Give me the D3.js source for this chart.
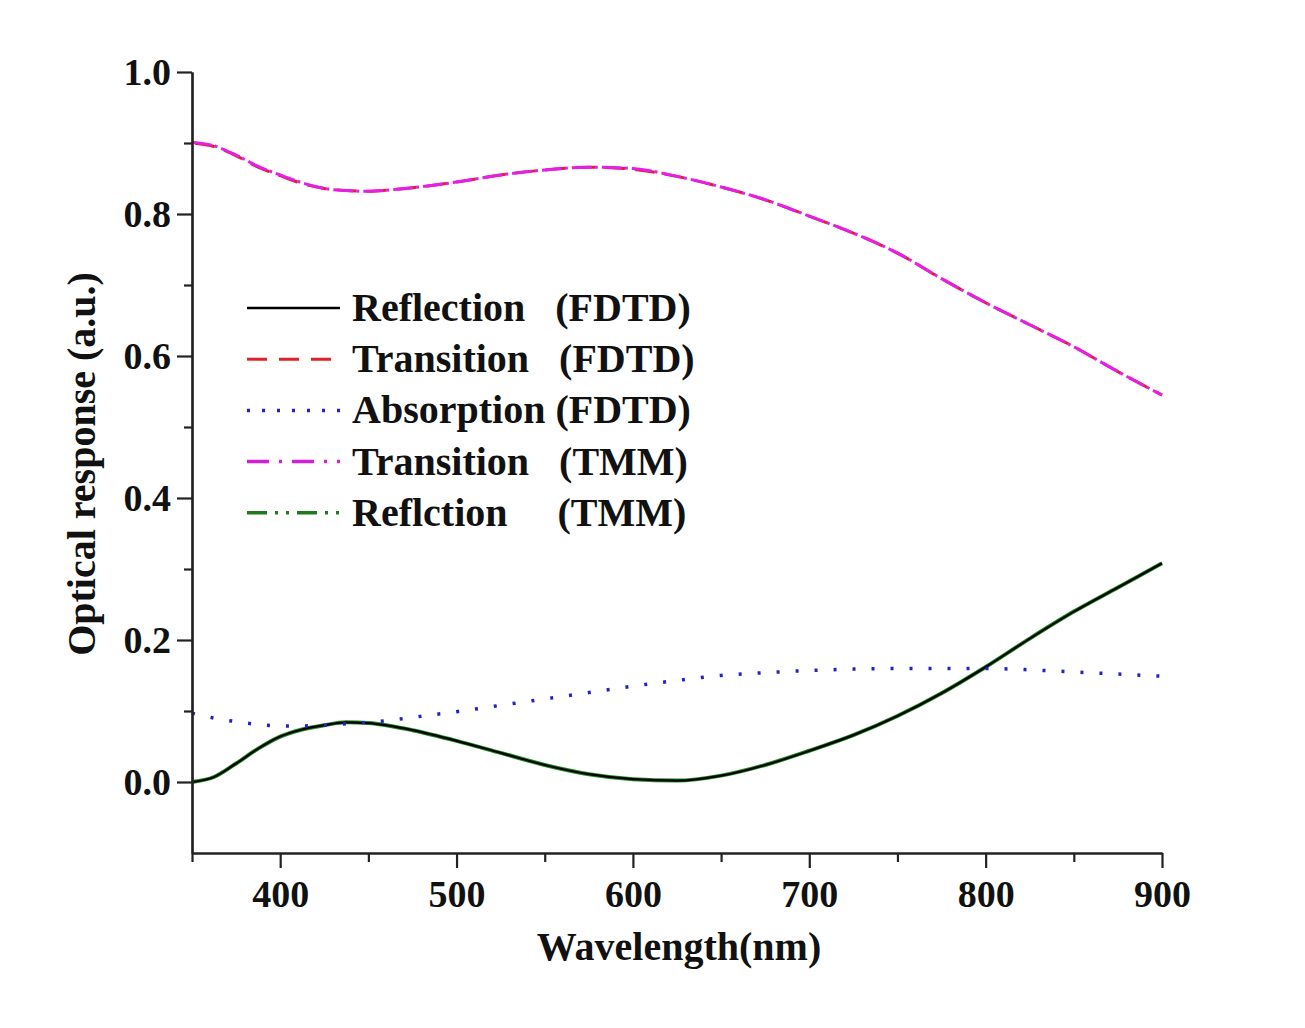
<!DOCTYPE html>
<html>
<head>
<meta charset="utf-8">
<script src="https://cdn.jsdelivr.net/npm/d3@7"></script>
<style>
  body { margin: 0; background: #fff; }
  svg { display: block; font-family: "Liberation Serif", "Times New Roman", serif; font-weight: bold; }
</style>
</head>
<body>
<svg id="chart" width="1305" height="1028"></svg>
<script>
// Wavelength samples (nm)
var wavelength = [350, 362.5, 375, 387.5, 400, 412.5, 425, 437.5, 450, 462.5, 475, 500, 525, 550, 575, 600, 625, 650, 675, 700, 725, 750, 775, 800, 825, 850, 875, 900];

// Series
var reflectionFDTD = [0.000, 0.007, 0.026, 0.047, 0.064, 0.074, 0.080, 0.084, 0.083, 0.079, 0.073, 0.058, 0.041, 0.024, 0.011, 0.004, 0.002, 0.009, 0.024, 0.044, 0.066, 0.093, 0.125, 0.162, 0.202, 0.240, 0.274, 0.308];
var transitionFDTD = [0.900, 0.895, 0.882, 0.866, 0.854, 0.843, 0.836, 0.833, 0.832, 0.834, 0.837, 0.845, 0.855, 0.862, 0.866, 0.863, 0.853, 0.838, 0.820, 0.797, 0.773, 0.745, 0.709, 0.675, 0.644, 0.613, 0.578, 0.545];
var absorptionFDTD = [0.097, 0.090, 0.085, 0.081, 0.079, 0.079, 0.080, 0.082, 0.084, 0.087, 0.091, 0.099, 0.108, 0.117, 0.126, 0.135, 0.143, 0.150, 0.154, 0.157, 0.159, 0.160, 0.160, 0.160, 0.158, 0.155, 0.152, 0.149];
var transitionTMM = [0.901, 0.896, 0.883, 0.867, 0.855, 0.844, 0.836, 0.833, 0.832, 0.834, 0.837, 0.845, 0.855, 0.862, 0.866, 0.864, 0.853, 0.838, 0.820, 0.797, 0.773, 0.745, 0.709, 0.675, 0.644, 0.613, 0.578, 0.545];
var reflectionTMM = [0.000, 0.007, 0.026, 0.047, 0.064, 0.074, 0.080, 0.084, 0.083, 0.079, 0.073, 0.058, 0.041, 0.024, 0.011, 0.004, 0.002, 0.009, 0.024, 0.044, 0.066, 0.093, 0.125, 0.162, 0.202, 0.240, 0.274, 0.308];

// Legend labels (spacing kept as in the figure)
var legendLabels = ['Reflection   (FDTD)', 'Transition   (FDTD)', 'Absorption (FDTD)', 'Transition   (TMM)', 'Reflction     (TMM)'];

// Ticks
var xMajorTicks = [400, 500, 600, 700, 800, 900];
var xMinorTicks = [350, 450, 550, 650, 750, 850];
var yMajorTicks = [0.0, 0.2, 0.4, 0.6, 0.8, 1.0];
var yMinorTicks = [0.1, 0.3, 0.5, 0.7, 0.9];

var svg = d3.select('#chart');

var x = d3.scaleLinear().domain([350, 900]).range([192, 1162]);
var y = d3.scaleLinear().domain([-0.1, 1.0]).range([853, 72]);

// Styles per series, drawn in this order
var series = [
	{ values: reflectionTMM, color: '#1f8a1f', width: 4, dash: null, offset: 0 },
	{ values: reflectionFDTD, color: '#000', width: 2.2, dash: null, offset: 0 },
	{ values: absorptionFDTD, color: '#2222c8', width: 3.5, dash: '3,16', offset: 0 },
	{ values: transitionFDTD, color: '#e0202a', width: 3, dash: '20,10', offset: -3 },
	{ values: transitionTMM, color: '#e61ee6', width: 3, dash: '20,3,3,4', offset: 0 }
];

var line = d3.line().curve(d3.curveMonotoneX);

series.forEach(function(s) {
	svg.append('path')
		.attr('d', line(wavelength.map(function(w, i) { return [x(w), y(s.values[i])]; })))
		.style('fill', 'none')
		.style('stroke', s.color)
		.style('stroke-width', s.width)
		.style('stroke-dasharray', s.dash)
		.style('stroke-dashoffset', s.offset);
});

// Axes
var xAxis = svg.append('g').attr('transform', 'translate(0,' + y(-0.1) + ')');
xAxis.call(d3.axisBottom(x).tickValues(xMajorTicks).tickSize(15).tickSizeOuter(0).tickPadding(12).tickFormat(d3.format('d')));
svg.append('g').attr('transform', 'translate(0,' + y(-0.1) + ')')
	.call(d3.axisBottom(x).tickValues(xMinorTicks).tickSize(9).tickSizeOuter(0).tickFormat(''));

var yAxis = svg.append('g').attr('transform', 'translate(' + x(350) + ',0)');
yAxis.call(d3.axisLeft(y).tickValues(yMajorTicks).tickSize(15).tickSizeOuter(0).tickPadding(6).tickFormat(d3.format('.1f')));
svg.append('g').attr('transform', 'translate(' + x(350) + ',0)')
	.call(d3.axisLeft(y).tickValues(yMinorTicks).tickSize(8).tickSizeOuter(0).tickFormat(''));

svg.selectAll('.domain').style('stroke', '#222').style('stroke-width', 2.2);
svg.selectAll('.tick line').style('stroke', '#222').style('stroke-width', 2.2);
svg.selectAll('.tick text')
	.style('font-family', '"Liberation Serif", serif')
	.style('font-weight', 'bold')
	.style('font-size', '38px')
	.style('fill', '#111');

// Axis titles
svg.append('text')
	.attr('x', 679).attr('y', 960)
	.attr('text-anchor', 'middle')
	.style('font-size', '40px')
	.style('fill', '#111')
	.text('Wavelength(nm)');

svg.append('text')
	.attr('transform', 'translate(95,464) rotate(-90)')
	.attr('text-anchor', 'middle')
	.style('font-size', '40px')
	.style('fill', '#111')
	.text('Optical response (a.u.)');

// Legend
var legendStyles = [
	{ color: '#000', width: 2.5, dash: null },
	{ color: '#e0202a', width: 3, dash: '20,12' },
	{ color: '#2222c8', width: 3.5, dash: '3,12' },
	{ color: '#d020d8', width: 3.5, dash: '22,10,3,10' },
	{ color: '#1f7a1f', width: 3.5, dash: '20,8,3,8,3,8' }
];

var legend = svg.append('g');
legendLabels.forEach(function(label, i) {
	var ly = 308 + i * 51.2;
	legend.append('line')
		.attr('x1', 247).attr('x2', 340)
		.attr('y1', ly).attr('y2', ly)
		.style('stroke', legendStyles[i].color)
		.style('stroke-width', legendStyles[i].width)
		.style('stroke-dasharray', legendStyles[i].dash);
	legend.append('text')
		.attr('x', 352).attr('y', ly + 13)
		.style('font-size', '40px')
		.style('fill', '#111')
		.style('white-space', 'pre')
		.text(label);
});
</script>
</body>
</html>
